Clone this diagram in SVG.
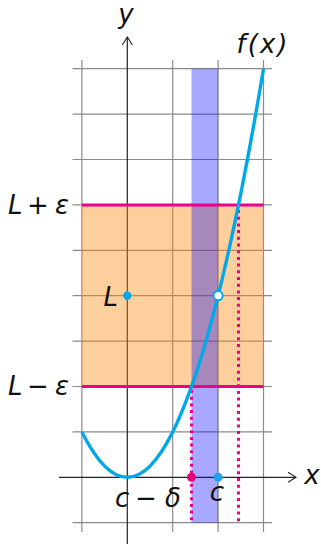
<svg xmlns="http://www.w3.org/2000/svg" width="321" height="544" viewBox="0 0 321 544">
<defs>
<marker id="arr" viewBox="0 0 10 12" refX="9" refY="6" markerWidth="10" markerHeight="12" markerUnits="userSpaceOnUse" orient="auto">
<path d="M1,1 L9,6 L1,11" fill="none" stroke="#222" stroke-width="1.1"/>
</marker>
<style>
.grid{stroke:#8a8a8a;stroke-width:1.2;fill:none}
.axis{stroke:#222;stroke-width:1.2;fill:none}
.lbl{font-family:"DejaVu Sans","Liberation Sans",sans-serif;font-style:italic;font-size:26px;fill:#111}
.eps{stroke:#ec008c;stroke-width:3}
.dot{stroke:#ec008c;stroke-width:3;stroke-dasharray:3 3.7}
</style>
</defs>
<rect width="321" height="544" fill="#fff"/>
<g id="grid">
<path class="grid" d="M72.5,68.7H272M72.5,114.1H272M72.5,159.5H272M72.5,204.9H272M72.5,250.3H272M72.5,295.7H272M72.5,341.1H272M72.5,386.5H272M72.5,431.9H272M72.5,522.7H272"/>
<path class="grid" d="M81.9,60V532M172.7,60V532M218.1,60V532M263.5,60V532"/>
</g>
<g id="axes">
<line class="axis" x1="59" y1="477.3" x2="296" y2="477.3" marker-end="url(#arr)"/>
<line class="axis" x1="127.3" y1="544" x2="127.3" y2="37" marker-end="url(#arr)"/>
</g>
<g id="epsilon-band">
<rect x="81.9" y="204.9" width="181.6" height="181.6" fill="#fa8c14" fill-opacity="0.42"/>
</g>
<g id="delta-band">
<rect x="191.5" y="68.7" width="26.6" height="454" fill="#0000ff" fill-opacity="0.34"/>
</g>
<g id="connectors">
<line class="eps" x1="81.9" y1="204.9" x2="263.5" y2="204.9"/>
<line class="eps" x1="81.9" y1="386.5" x2="263.5" y2="386.5"/>
<line class="dot" x1="238.5" y1="210" x2="238.5" y2="523"/>
<line class="dot" x1="191.5" y1="390" x2="191.5" y2="523"/>
</g>
<g id="curve">
<path d="M81.9,431.9 Q172.7,613.5 263.5,68.7" fill="none" stroke="#00a8e8" stroke-width="3.4"/>
</g>
<g id="points">
<circle cx="127.3" cy="295.7" r="4.2" fill="#00a8e8"/>
<circle cx="218.1" cy="295.7" r="4.6" fill="#fff" stroke="#00a8e8" stroke-width="2"/>
<circle cx="191.5" cy="477.3" r="4.5" fill="#e6007e"/>
<circle cx="218.1" cy="477.3" r="4.5" fill="#1fa0ee"/>
</g>
<g id="labels">
<text class="lbl" x="126" y="23" text-anchor="middle">y</text>
<text class="lbl" x="312" y="484" text-anchor="middle">x</text>
<text class="lbl" x="263" y="53" text-anchor="middle" letter-spacing="2">f(x)</text>
<text class="lbl" y="214"><tspan x="8">L</tspan><tspan x="27">+</tspan><tspan x="55">ε</tspan></text>
<text class="lbl" y="395"><tspan x="8">L</tspan><tspan x="27">−</tspan><tspan x="55">ε</tspan></text>
<text class="lbl" x="118" y="306" text-anchor="end">L</text>
<text class="lbl" y="507"><tspan x="115">c</tspan><tspan x="135">−</tspan><tspan x="165">δ</tspan></text>
<text class="lbl" x="217" y="501" text-anchor="middle">c</text>
</g>
</svg>
